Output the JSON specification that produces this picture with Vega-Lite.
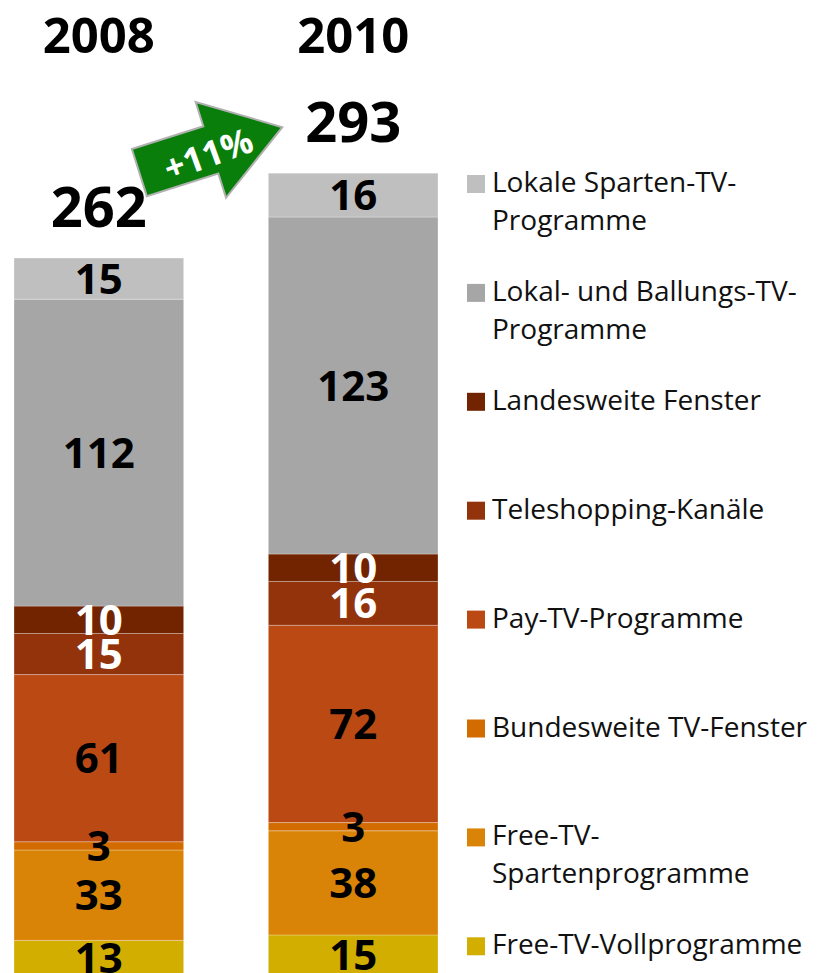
{
  "$schema": "https://vega.github.io/schema/vega-lite/v6.json",
  "width": 424,
  "height": 893,
  "autosize": {"type": "none"},
  "padding": {"left": 14, "top": 80, "right": 379, "bottom": 0},
  "background": "white",
  "config": {
    "view": {"stroke": null},
    "font": "Open Sans",
    "style": {"guide-label": {"lineHeight": 38}},
    "legend": {
      "orient": "none",
      "legendX": 448,
      "legendY": 90,
      "padding": 0,
      "title": null,
      "symbolType": "square",
      "symbolSize": 324,
      "symbolStrokeWidth": 0,
      "symbolOpacity": 1,
      "labelFont": "Open Sans",
      "labelFontSize": 28,
      "labelColor": "#111111",
      "labelOffset": 2,
      "labelLimit": 400,
      "rowPadding": 42.9,
      "labelBaseline": "middle"
    }
  },
  "data": {
    "values": [
      {"year": "2008", "cat": "Free-TV-Vollprogramme", "k": 1, "value": 13},
      {"year": "2008", "cat": "Free-TV-Spartenprogramme", "k": 2, "value": 33},
      {"year": "2008", "cat": "Bundesweite TV-Fenster", "k": 3, "value": 3},
      {"year": "2008", "cat": "Pay-TV-Programme", "k": 4, "value": 61},
      {"year": "2008", "cat": "Teleshopping-Kanäle", "k": 5, "value": 15},
      {"year": "2008", "cat": "Landesweite Fenster", "k": 6, "value": 10},
      {"year": "2008", "cat": "Lokal- und Ballungs-TV-Programme", "k": 7, "value": 112},
      {"year": "2008", "cat": "Lokale Sparten-TV-Programme", "k": 8, "value": 15},
      {"year": "2010", "cat": "Free-TV-Vollprogramme", "k": 1, "value": 15},
      {"year": "2010", "cat": "Free-TV-Spartenprogramme", "k": 2, "value": 38},
      {"year": "2010", "cat": "Bundesweite TV-Fenster", "k": 3, "value": 3},
      {"year": "2010", "cat": "Pay-TV-Programme", "k": 4, "value": 72},
      {"year": "2010", "cat": "Teleshopping-Kanäle", "k": 5, "value": 16},
      {"year": "2010", "cat": "Landesweite Fenster", "k": 6, "value": 10},
      {"year": "2010", "cat": "Lokal- und Ballungs-TV-Programme", "k": 7, "value": 123},
      {"year": "2010", "cat": "Lokale Sparten-TV-Programme", "k": 8, "value": 16}
    ]
  },
  "encoding": {
    "x": {
      "field": "year",
      "type": "nominal",
      "scale": {"paddingInner": 0.333, "paddingOuter": 0},
      "axis": {
        "orient": "top",
        "title": null,
        "domain": false,
        "ticks": false,
        "labelAngle": 0,
        "labelFont": "Open Sans",
        "labelFontSize": 49,
        "labelFontWeight": "bold",
        "labelColor": "#000000",
        "labelPadding": 28,
        "labelBaseline": "alphabetic"
      }
    }
  },
  "layer": [
    {
      "mark": {"type": "bar", "clip": true, "stroke": "#ffffff", "strokeWidth": 0.8, "strokeOpacity": 0.35},
      "encoding": {
        "y": {"field": "value", "type": "quantitative", "stack": "zero", "scale": {"domain": [1.1, 327], "nice": false, "zero": false}, "axis": null},
        "color": {
          "field": "cat",
          "type": "nominal",
          "scale": {
            "domain": ["Lokale Sparten-TV-Programme", "Lokal- und Ballungs-TV-Programme", "Landesweite Fenster", "Teleshopping-Kanäle", "Pay-TV-Programme", "Bundesweite TV-Fenster", "Free-TV-Spartenprogramme", "Free-TV-Vollprogramme"],
            "range": ["#bfbfbf", "#a6a6a6", "#722400", "#93330b", "#bb4914", "#d36c00", "#da8407", "#d1ae00"]
          },
          "legend": {
            "labelExpr": "datum.label == 'Lokale Sparten-TV-Programme' ? ['Lokale Sparten-TV-', 'Programme'] : datum.label == 'Lokal- und Ballungs-TV-Programme' ? ['Lokal- und Ballungs-TV-', 'Programme'] : datum.label == 'Free-TV-Spartenprogramme' ? ['Free-TV-', 'Spartenprogramme'] : [datum.label, '']"
          }
        },
        "order": {"field": "k", "type": "quantitative"}
      }
    },
    {
      "mark": {"type": "text", "clip": true, "fontSize": 42, "fontWeight": "bold", "baseline": "middle", "dy": 2},
      "encoding": {
        "y": {"field": "value", "type": "quantitative", "stack": "zero", "bandPosition": 0.5},
        "text": {"field": "value", "type": "quantitative"},
        "order": {"field": "k", "type": "quantitative"},
        "color": {
          "condition": {"test": "datum.cat == 'Landesweite Fenster' || datum.cat == 'Teleshopping-Kanäle'", "value": "#ffffff"},
          "value": "#000000"
        }
      }
    },
    {
      "transform": [{"aggregate": [{"op": "sum", "field": "value", "as": "total"}], "groupby": ["year"]}],
      "mark": {"type": "text", "fontSize": 56, "fontWeight": "bold", "baseline": "middle", "dy": -48, "color": "#000000"},
      "encoding": {
        "y": {"field": "total", "type": "quantitative"},
        "text": {"field": "total", "type": "quantitative"}
      }
    },
    {
      "data": {"values": [{"label": "+11%"}]},
      "mark": {"type": "point", "filled": true, "shape": "M -1 -0.33 L 0 -0.33 L 0 -0.67 L 1 0 L 0 0.67 L 0 0.33 L -1 0.33 Z", "size": 22500, "angle": -17.6, "fill": "#0a7e0a", "fillOpacity": 1, "stroke": "#b0b0b0", "strokeWidth": 2, "xOffset": 112},
      "encoding": {
        "x": {"datum": "2008"},
        "y": {"datum": 301.5}
      }
    },
    {
      "data": {"values": [{"label": "+11%"}]},
      "mark": {"type": "text", "fontSize": 35, "fontWeight": "bold", "color": "#ffffff", "angle": 340, "baseline": "middle", "align": "center", "xOffset": 110, "yOffset": 6},
      "encoding": {
        "x": {"datum": "2008"},
        "y": {"datum": 301.5},
        "text": {"field": "label"}
      }
    }
  ]
}
